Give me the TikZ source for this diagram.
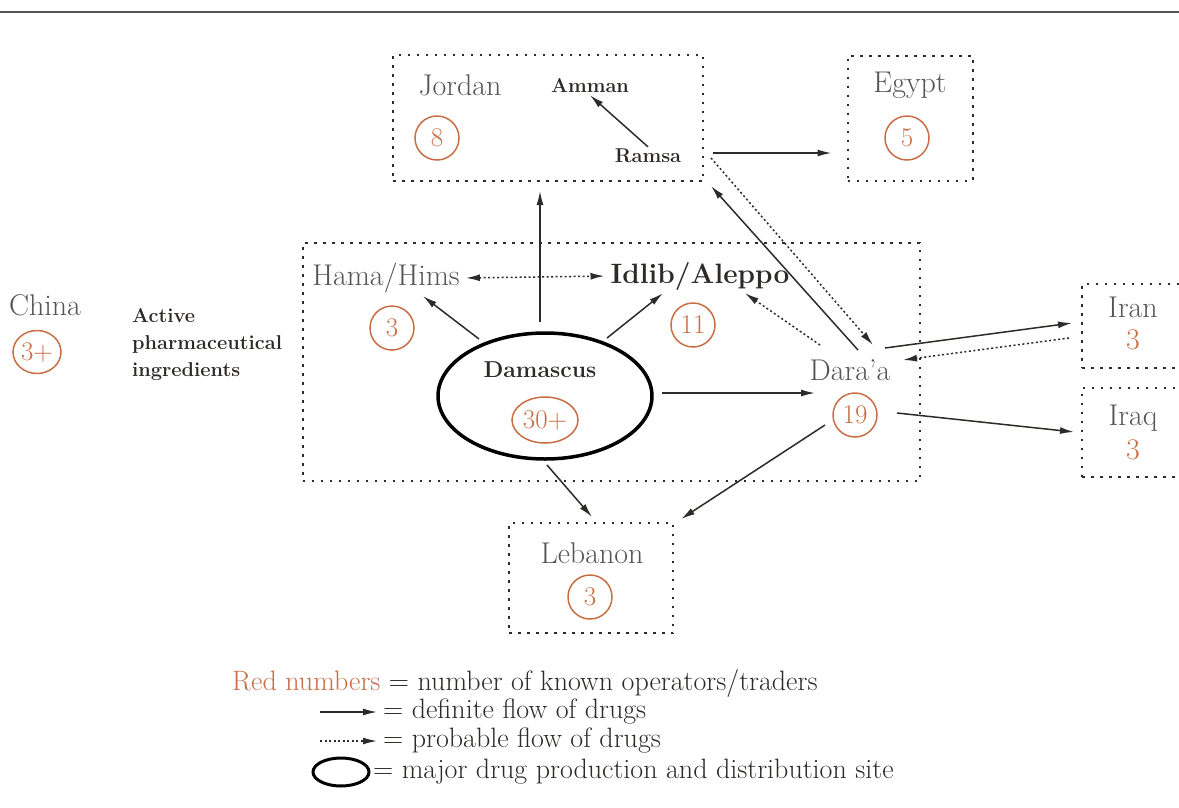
\documentclass[tikz,border=0pt]{standalone}
\usepackage{fontspec}
\usepackage{amsmath,amssymb}
\usepackage{tikz}
\usetikzlibrary{arrows.meta}
\usetikzlibrary{positioning}
\usetikzlibrary{shapes.geometric}

\definecolor{placegray}{RGB}{85,85,85}
\definecolor{inkdark}{RGB}{45,42,40}
\definecolor{rednum}{RGB}{200,110,70}

\tikzset{
	region/.style={rectangle, draw=inkdark, line width=2pt, dash pattern=on 2.5pt off 6.5pt, inner sep=0pt},
	place/.style={text=placegray, font=\fontsize{30}{32}\selectfont, inner sep=2pt},
	town/.style={text=inkdark, font=\fontsize{20}{27}\selectfont\bfseries, inner sep=2pt},
	count/.style={circle, draw=rednum, line width=1.5pt, text=rednum, minimum size=44pt, inner sep=0pt, font=\fontsize{27}{28}\selectfont},
	countoval/.style={ellipse, draw=rednum, line width=1.5pt, text=rednum, inner sep=0pt, font=\fontsize{27}{28}\selectfont},
	hub/.style={ellipse, draw=black, line width=3.5pt, minimum width=214pt, minimum height=126pt},
	keytext/.style={text=inkdark, font=\fontsize{28}{30}\selectfont, inner sep=0pt, anchor=west},
	definite/.style={->, color=inkdark, line width=1.5pt},
	probable/.style={->, color=inkdark, line width=1.5pt, dash pattern=on 2pt off 2.5pt},
}

\begin{document}
\begin{tikzpicture}[x=1pt,y=-1pt,>={Latex[length=14pt,width=7pt]}]
	\useasboundingbox (0,0) rectangle (1179,807);
	\draw[draw=placegray, line width=2.5pt] (0,12) -- (1179,12);

	\node[region, minimum width=310pt, minimum height=126pt] (JordanBox) at (548,118) {};
	\node[place] (Jordan) at (460,85) {Jordan};
	\node[count] (N8) at (437,138) {8};
	\node[town] (Amman) at (590,86) {Amman};
	\node[town] (Ramsa) at (648,156) {Ramsa};

	\node[region, minimum width=125pt, minimum height=125pt] (EgyptBox) at (910,118) {};
	\node[place] (Egypt) at (910,85) {Egypt};
	\node[count] (N5) at (907,138) {5};

	\node[region, minimum width=617pt, minimum height=238pt] (SyriaBox) at (611,362) {};
	\node[place] (Hama) at (386,278) {Hama/Hims};
	\node[count] (N3h) at (392,328) {3};
	\node[place, text=inkdark, font=\fontsize{28}{30}\selectfont\bfseries] (Idlib) at (700,276) {Idlib/Aleppo};
	\node[count] (N11) at (693,325) {11};
	\node[hub] (Damascus) at (545,396) {};
	\node[town, font=\fontsize{23}{25}\selectfont\bfseries] (DamLabel) at (540,370) {Damascus};
	\node[countoval, minimum width=66pt, minimum height=46pt] (N30) at (545,420) {30+};
	\node[place] (Daraa) at (850,370) {Dara’a};
	\node[count] (N19) at (855,415) {19};

	\node[region, minimum width=110pt, minimum height=84pt] (IranBox) at (1137,326) {};
	\node[place] (Iran) at (1133,307) {Iran};
	\node[place, text=rednum] (N3ir) at (1133,340) {3};
	\node[region, minimum width=110pt, minimum height=89pt] (IraqBox) at (1137,432) {};
	\node[place] (Iraq) at (1133,418) {Iraq};
	\node[place, text=rednum] (N3iq) at (1133,450) {3};

	\node[region, minimum width=164pt, minimum height=110pt] (LebanonBox) at (591,578) {};
	\node[place] (Lebanon) at (592,553) {Lebanon};
	\node[count] (N3l) at (590,597) {3};

	\node[place] (China) at (45,305) {China};
	\node[countoval, minimum width=48pt, minimum height=43pt] (N3c) at (37,352) {3+};
	\node[town, align=left, anchor=west] (Ingredients) at (130,345) {Active\\pharmaceutical\\ingredients};

	\path[definite]
	(Ramsa.north)	edge	(Amman.south)
	([shift={(9,35)}]JordanBox.east)	edge	([shift={(-15,35)}]EgyptBox.west)
	([shift={(-5,-74)}]Damascus.center)	edge	([shift={(-8,9)}]JordanBox.south)
	([shift={(-66,-57)}]Damascus.center)	edge	([shift={(37,1)}]Hama.south)
	([shift={(62,-58)}]Damascus.center)	edge	([shift={(-37,1)}]Idlib.south)
	([shift={(117,-3)}]Damascus.center)	edge	([shift={(-35,23)}]Daraa.center)
	([shift={(2,69)}]Damascus.center)	edge	([shift={(1,-5)}]LebanonBox.north)
	([shift={(8,-20)}]Daraa.center)	edge	([shift={(7,4)}]JordanBox.south east)
	([shift={(35,-22)}]Daraa.center)	edge	([shift={(-9,-3)}]IranBox.west)
	([shift={(47,43)}]Daraa.center)	edge	([shift={(-7,0)}]IraqBox.west)
	([shift={(-25,55)}]Daraa.center)	edge	([shift={(7,-3)}]LebanonBox.north east);
	\path[probable]
	(Hama.east)	edge[<->, shorten <=4pt, shorten >=4pt]	(Idlib.west)
	([shift={(7,40)}]JordanBox.east)	edge	([shift={(23,-25)}]Daraa.center)
	([shift={(-30,-25)}]Daraa.center)	edge	([shift={(45,1)}]Idlib.south)
	([shift={(-12,12)}]IranBox.west)	edge	([shift={(53,-10)}]Daraa.center);

	\node[keytext] (KeyNumbers) at (232,683) {\textcolor{rednum}{Red numbers} = number of known operators/traders};
	\coordinate (KeyDefStart) at (320,712);
	\node[keytext] (KeyDef) at (383,712) {= definite flow of drugs};
	\coordinate (KeyProbStart) at (320,741);
	\node[keytext] (KeyProb) at (383,741) {= probable flow of drugs};
	\node[hub, minimum width=56pt, minimum height=28pt, line width=3pt] (KeyHub) at (341,772) {};
	\node[keytext] (KeyHubText) at (373,772) {= major drug production and distribution site};
	\path[definite] (KeyDefStart) edge[shorten >=6pt] (KeyDef.west);
	\path[probable] (KeyProbStart) edge[shorten >=6pt] (KeyProb.west);
\end{tikzpicture}
\end{document}
